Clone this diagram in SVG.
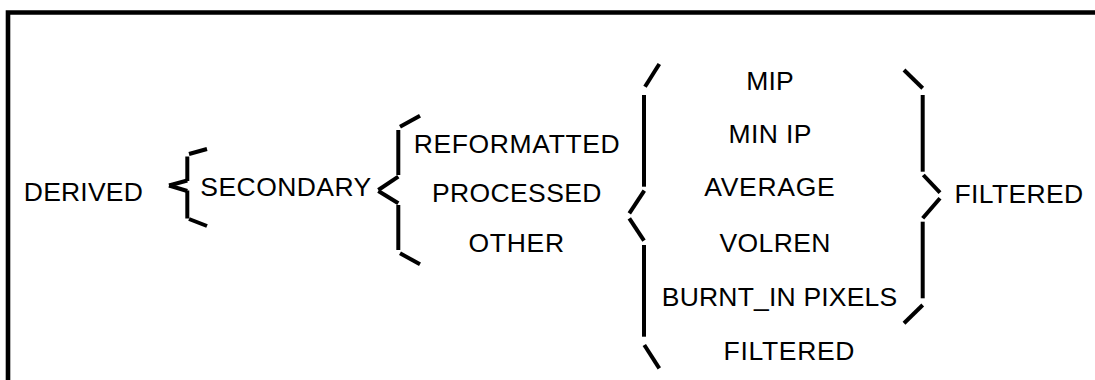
<svg xmlns="http://www.w3.org/2000/svg" width="1095" height="380" viewBox="0 0 1095 380">
<style>
.t{font-family:"Liberation Sans",Arial,sans-serif;font-size:26.5px;fill:#000;text-anchor:middle}
.b{stroke:#000;stroke-width:4;fill:none;stroke-linecap:butt}
</style>
<rect x="0" y="0" width="1095" height="380" fill="#fff"/>
<path d="M8,385 V12.5 H1100" fill="none" stroke="#000" stroke-width="4.6"/>
<g id="derived"><text class="t" x="83.3" y="200.7" textLength="119" lengthAdjust="spacing">DERIVED</text></g>
<g id="secondary"><text class="t" x="285.8" y="196" textLength="171" lengthAdjust="spacing">SECONDARY</text></g>
<g id="reformatted"><text class="t" x="516.7" y="152.7" textLength="206" lengthAdjust="spacing">REFORMATTED</text></g>
<g id="processed"><text class="t" x="516.7" y="202.3" textLength="169.5" lengthAdjust="spacing">PROCESSED</text></g>
<g id="other"><text class="t" x="516.3" y="252.3" textLength="95.5" lengthAdjust="spacing">OTHER</text></g>
<g id="mip"><text class="t" x="770" y="90" textLength="47.5" lengthAdjust="spacing">MIP</text></g>
<g id="minip"><text class="t" x="770" y="142.7" textLength="83" lengthAdjust="spacing">MIN IP</text></g>
<g id="average"><text class="t" x="769.5" y="196" textLength="130.5" lengthAdjust="spacing">AVERAGE</text></g>
<g id="volren"><text class="t" x="775" y="252.3" textLength="111" lengthAdjust="spacing">VOLREN</text></g>
<g id="burnt"><text class="t" x="779.5" y="306" textLength="235.5" lengthAdjust="spacing">BURNT_IN PIXELS</text></g>
<g id="filtered-item"><text class="t" x="789" y="360" textLength="131" lengthAdjust="spacing">FILTERED</text></g>
<g id="filtered"><text class="t" x="1018.8" y="202.7" textLength="128.5" lengthAdjust="spacing">FILTERED</text></g>
<g id="connectors">
<g id="brace1">
<line class="b" x1="189" y1="154" x2="207" y2="149"/>
<line class="b" x1="187.3" y1="156.5" x2="187.3" y2="181"/>
<line class="b" x1="187.3" y1="180.5" x2="169" y2="185.5"/>
<line class="b" x1="169" y1="185.5" x2="187.3" y2="191"/>
<line class="b" x1="187.3" y1="190.5" x2="187.3" y2="218.5"/>
<line class="b" x1="189" y1="219" x2="207" y2="226"/>
</g>
<g id="brace2">
<line class="b" x1="400" y1="126.7" x2="420" y2="115.7"/>
<line class="b" x1="398.3" y1="130" x2="398.3" y2="175"/>
<line class="b" x1="398.3" y1="176.7" x2="378.3" y2="190"/>
<line class="b" x1="378.3" y1="191" x2="398.3" y2="203.3"/>
<line class="b" x1="398.3" y1="205" x2="398.3" y2="250"/>
<line class="b" x1="400" y1="253.3" x2="420" y2="264.3"/>
</g>
<g id="brace3">
<line class="b" x1="645" y1="86.7" x2="659.3" y2="64"/>
<line class="b" x1="644" y1="95" x2="644" y2="186.7"/>
<line class="b" x1="644.3" y1="190.7" x2="629.3" y2="213.3"/>
<line class="b" x1="629.3" y1="218.3" x2="644" y2="240.7"/>
<line class="b" x1="644" y1="245" x2="644" y2="336.7"/>
<line class="b" x1="644.3" y1="345" x2="659.3" y2="368.3"/>
</g>
<g id="brace4">
<line class="b" x1="904" y1="70" x2="922.7" y2="88.3"/>
<line class="b" x1="922.7" y1="95" x2="922.7" y2="171.7"/>
<line class="b" x1="923.3" y1="175" x2="940" y2="192.7"/>
<line class="b" x1="940" y1="198.3" x2="922.7" y2="218.3"/>
<line class="b" x1="922.7" y1="221.7" x2="922.7" y2="298.3"/>
<line class="b" x1="922.7" y1="305" x2="904" y2="323.3"/>
</g>
</g>
</svg>
